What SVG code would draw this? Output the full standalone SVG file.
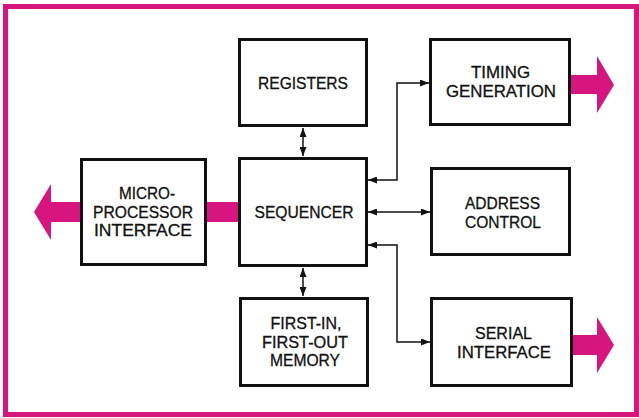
<svg xmlns="http://www.w3.org/2000/svg" width="639" height="418" viewBox="0 0 639 418">
<style>
.box{fill:#fff;stroke:#111;stroke-width:3}
.t{font-family:"Liberation Sans",Arial,sans-serif;font-size:16px;fill:#111;text-anchor:middle;stroke:#111;stroke-width:0.3}
.c{fill:none;stroke:#111;stroke-width:1.5}
.mg{fill:#d6157f}
</style>
<defs>
<marker id="ah" viewBox="0 0 9 7" refX="9" refY="3.5" markerWidth="9" markerHeight="7" markerUnits="userSpaceOnUse" orient="auto-start-reverse">
<path d="M0,0 L9,3.5 L0,7 z" fill="#111"/>
</marker>
</defs>
<rect x="0" y="0" width="639" height="418" fill="#fff"/>
<rect x="5.5" y="6.5" width="631" height="408" fill="none" stroke="#d6157f" stroke-width="5"/>

<g id="connectors">
<line class="c" x1="303" y1="128" x2="303" y2="156" marker-start="url(#ah)" marker-end="url(#ah)"/>
<line class="c" x1="303" y1="268" x2="303" y2="296" marker-start="url(#ah)" marker-end="url(#ah)"/>
<path class="c" d="M368,180 H397 V83 H429" marker-start="url(#ah)" marker-end="url(#ah)"/>
<line class="c" x1="368" y1="212" x2="430" y2="212" marker-start="url(#ah)" marker-end="url(#ah)"/>
<path class="c" d="M368,245 H397 V342 H430" marker-start="url(#ah)" marker-end="url(#ah)"/>
<rect class="mg" x="206" y="202" width="32" height="20"/>
<polygon class="mg" points="34,212 51,184 51,202 81,202 81,222 51,222 51,240"/>
<polygon class="mg" points="570,75 597,75 597,56 614,85 597,113 597,94 570,94"/>
<polygon class="mg" points="572,335 597,335 597,317 614,345 597,373 597,355 572,355"/>
</g>

<g id="registers">
<rect class="box" x="239.5" y="39.5" width="127" height="86"/>
<text class="t" x="303" y="89" textLength="90" lengthAdjust="spacingAndGlyphs">REGISTERS</text>
</g>
<g id="sequencer">
<rect class="box" x="239.5" y="158.5" width="127" height="107"/>
<text class="t" x="304" y="218" textLength="99" lengthAdjust="spacingAndGlyphs">SEQUENCER</text>
</g>
<g id="fifo">
<rect class="box" x="240.5" y="298.5" width="127" height="87"/>
<text class="t" x="306" y="329" textLength="71" lengthAdjust="spacingAndGlyphs">FIRST-IN,</text>
<text class="t" x="305" y="347.5" textLength="86" lengthAdjust="spacingAndGlyphs">FIRST-OUT</text>
<text class="t" x="305" y="366" textLength="70" lengthAdjust="spacingAndGlyphs">MEMORY</text>
</g>
<g id="micro">
<rect class="box" x="81.5" y="159.5" width="124" height="105"/>
<text class="t" x="147" y="198.5" textLength="56" lengthAdjust="spacingAndGlyphs">MICRO-</text>
<text class="t" x="143" y="217.5" textLength="100" lengthAdjust="spacingAndGlyphs">PROCESSOR</text>
<text class="t" x="143" y="236" textLength="98" lengthAdjust="spacingAndGlyphs">INTERFACE</text>
</g>
<g id="timing">
<rect class="box" x="430.5" y="39.5" width="139" height="85"/>
<text class="t" x="500.5" y="78" textLength="59" lengthAdjust="spacingAndGlyphs">TIMING</text>
<text class="t" x="501" y="97" textLength="110" lengthAdjust="spacingAndGlyphs">GENERATION</text>
</g>
<g id="address">
<rect class="box" x="431.5" y="168.5" width="138" height="86"/>
<text class="t" x="502.5" y="209" textLength="75" lengthAdjust="spacingAndGlyphs">ADDRESS</text>
<text class="t" x="503" y="228" textLength="76" lengthAdjust="spacingAndGlyphs">CONTROL</text>
</g>
<g id="serial">
<rect class="box" x="431.5" y="298.5" width="140" height="87"/>
<text class="t" x="503.5" y="339" textLength="57" lengthAdjust="spacingAndGlyphs">SERIAL</text>
<text class="t" x="504" y="358" textLength="94" lengthAdjust="spacingAndGlyphs">INTERFACE</text>
</g>
</svg>
